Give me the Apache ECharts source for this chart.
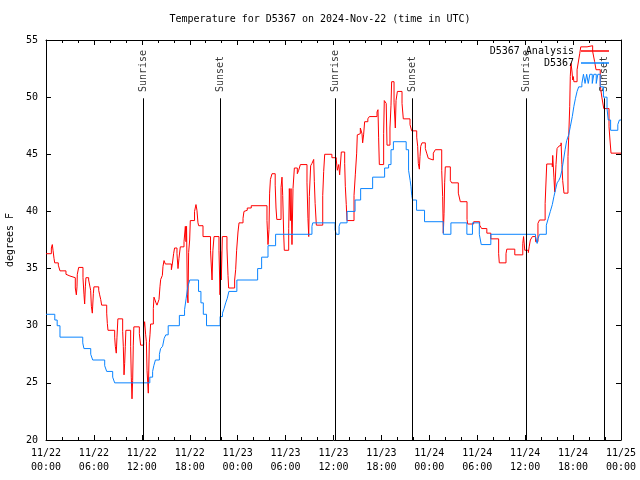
<!DOCTYPE html>
<html>
<head>
<meta charset="utf-8">
<script src="https://cdn.jsdelivr.net/npm/echarts@6/dist/echarts.min.js"></script>
<style>html,body{margin:0;padding:0;background:#fff}#c{width:640px;height:480px}</style>
</head>
<body>
<div id="c"></div>
<script>
// hours since 2024-11-22 00:00 UTC, temperature in deg F
var analysisSeries = [[0,36.3],[0.67,36.8],[0.79,37.1],[0.88,36.6],[1.0,35.9],[1.09,35.5],[1.54,35.3],[1.75,34.8],[2.5,34.5],[2.75,34.35],[3.0,34.2],[3.67,33.3],[3.8,32.7],[3.88,33.4],[3.92,34.5],[4.09,35.1],[4.63,34.2],[4.76,32.7],[4.84,31.9],[4.93,33.4],[5.0,34.2],[5.34,34.0],[5.46,33.85],[5.59,33.1],[5.68,31.7],[5.8,31.1],[5.93,32.8],[6.0,33.4],[6.6,33.1],[6.72,32.7],[6.85,32.3],[6.97,31.8],[7.6,31.1],[7.68,30.2],[7.76,29.6],[8.6,29.0],[8.68,28.2],[8.8,27.6],[8.89,29.0],[9.0,30.6],[9.6,29.5],[9.68,28.2],[9.77,25.7],[9.85,26.7],[9.93,28.2],[10.0,29.6],[10.6,28.2],[10.68,25.5],[10.77,23.6],[10.85,25.2],[10.93,28.3],[11.0,29.9],[11.69,29.3],[11.85,28.3],[12.23,29.8],[12.35,30.35],[12.48,29.2],[12.57,28.6],[12.65,26.1],[12.81,24.1],[12.94,28.5],[13.02,29.2],[13.1,30.15],[13.44,31.5],[13.52,32.5],[13.65,32.25],[13.77,32.0],[13.9,31.8],[14.15,32.3],[14.27,33.4],[14.36,34.05],[14.57,34.4],[14.65,35.2],[14.78,35.7],[14.94,35.4],[15.7,34.9],[15.8,35.3],[15.98,36.3],[16.1,36.8],[16.4,36.3],[16.53,35.0],[16.65,35.9],[16.82,36.9],[17.28,37.35],[17.45,38.7],[17.53,37.35],[17.6,38.7],[17.7,32.7],[17.78,32.0],[17.86,36.4],[17.99,37.5],[18.07,39.2],[18.6,40.0],[18.78,40.6],[18.9,40.1],[19.03,39.0],[19.12,38.75],[19.66,37.8],[20.6,36.6],[20.79,34.0],[20.9,36.6],[21.04,37.8],[21.66,36.6],[21.79,32.7],[21.87,36.5],[21.95,34.0],[22.08,37.8],[22.66,36.8],[22.79,34.4],[22.87,33.3],[23.62,34.0],[23.75,34.9],[23.87,36.6],[24.04,38.2],[24.17,39.0],[24.67,39.4],[24.79,40.0],[24.96,40.1],[25.2,40.3],[25.7,40.5],[27.67,39.2],[27.8,37.1],[27.92,38.4],[28.0,41.6],[28.1,42.8],[28.3,43.3],[28.7,42.3],[28.8,40.3],[28.9,39.3],[29.43,42.1],[29.55,43.0],[29.64,41.4],[29.76,38.1],[29.84,36.6],[30.39,38.5],[30.47,42.0],[30.6,39.2],[30.68,42.0],[30.8,37.1],[30.93,42.0],[31.1,43.8],[31.47,43.3],[31.64,43.6],[31.85,44.1],[32.68,42.5],[32.8,39.4],[32.9,37.8],[32.97,41.3],[33.14,44.0],[33.3,44.2],[33.52,44.55],[33.6,42.6],[33.7,40.7],[33.85,38.8],[34.65,41.4],[34.77,43.5],[34.9,45.0],[35.8,44.7],[36.35,44.5],[36.48,43.6],[36.65,44.1],[36.77,43.2],[36.98,45.2],[37.4,44.2],[37.48,42.2],[37.6,40.6],[37.69,39.2],[38.57,41.4],[38.73,43.2],[38.9,45.1],[38.98,46.7],[39.23,46.8],[39.36,47.3],[39.57,46.8],[39.65,46.0],[39.77,46.7],[39.9,47.85],[40.3,48.1],[40.49,48.3],[41.45,48.7],[41.57,48.9],[41.65,46.5],[41.74,44.1],[42.28,46.8],[42.36,49.7],[42.6,49.45],[42.7,45.8],[43.07,47.3],[43.2,49.3],[43.28,51.35],[43.58,49.5],[43.74,47.3],[43.83,49.7],[44.0,50.5],[44.58,49.45],[44.74,48.1],[45.58,47.6],[45.79,47.05],[46.42,46.5],[46.54,45.7],[46.62,44.2],[46.75,43.7],[46.83,44.8],[46.92,45.7],[47.08,46.0],[47.5,45.5],[47.67,45.1],[47.87,44.65],[48.08,44.5],[48.5,45.1],[48.75,45.4],[49.55,43.6],[49.67,41.3],[49.75,38.1],[49.84,39.8],[49.92,42.5],[50.0,43.9],[50.63,42.7],[50.8,42.5],[51.63,41.6],[51.88,40.85],[52.72,39.3],[52.8,38.9],[53.55,39.1],[54.3,38.8],[54.55,38.5],[55.2,38.1],[55.7,37.6],[56.68,36.3],[56.76,35.5],[57.6,36.3],[57.7,36.7],[58.7,36.2],[59.7,37.2],[59.8,37.8],[59.95,36.6],[60.4,36.4],[60.5,36.9],[60.65,37.5],[60.9,37.8],[61.3,37.35],[61.6,38.96],[61.8,39.25],[62.5,40.7],[62.7,44.15],[63.4,43.9],[63.45,44.9],[63.6,43.0],[63.7,41.7],[63.86,44.1],[63.99,45.5],[64.2,45.7],[64.4,45.8],[64.5,46.0],[64.6,44.1],[64.7,42.7],[64.86,41.6],[65.36,44.8],[65.45,46.5],[65.58,49.2],[65.65,51.8],[65.74,52.96],[65.87,52.2],[65.95,51.5],[66.03,51.8],[66.1,51.35],[66.5,52.4],[66.7,53.25],[66.83,53.8],[66.96,54.4],[67.75,54.5],[68.45,54.0],[68.7,53.1],[68.87,52.4],[69.4,51.0],[69.6,50.0],[69.84,49.0],[70.5,47.4],[70.62,46.25],[70.75,45.1],[72,45.1]];

var stationSeries = [[0,31.0],[1.1,30.5],[1.4,30.0],[1.75,29.0],[4.6,28.5],[4.75,28.0],[5.6,27.5],[5.85,27.0],[7.35,26.5],[7.6,26.0],[8.35,25.5],[8.6,25.0],[13.0,25.5],[13.35,26.0],[13.5,26.5],[13.7,27.0],[14.2,27.5],[14.35,28.0],[14.6,28.2],[14.8,28.9],[15.0,29.2],[15.3,30.0],[16.7,30.9],[17.35,31.4],[17.55,32.4],[17.75,33.4],[18.0,34.0],[19.1,33.0],[19.4,32.0],[19.7,31.0],[20.1,30.0],[21.8,30.8],[22.1,31.1],[22.3,31.5],[22.5,32.0],[22.7,32.4],[22.9,33.0],[23.9,34.0],[26.5,35.0],[27.0,36.0],[27.8,37.0],[28.75,38.0],[33.3,38.7],[33.4,39.0],[36.2,38.4],[36.35,38.0],[36.7,38.7],[36.85,39.0],[37.7,40.0],[38.7,41.0],[39.4,42.0],[40.9,43.0],[42.4,43.8],[42.9,44.1],[43.2,45.4],[43.5,46.1],[45.1,45.4],[45.4,43.6],[45.6,42.7],[45.7,42.2],[45.8,41.4],[45.9,41.0],[46.4,40.1],[47.4,39.1],[49.75,38.0],[50.7,39.0],[52.7,38.0],[53.4,39.0],[54.26,38.0],[54.5,37.1],[55.7,38.0],[61.3,37.8],[61.5,37.2],[61.6,37.6],[61.8,38.0],[62.65,38.8],[62.9,39.4],[63.15,40.0],[63.4,40.6],[63.6,41.3],[63.8,41.9],[64.0,42.5],[64.2,42.7],[64.4,43.0],[64.6,43.6],[64.8,44.5],[65.0,45.4],[65.2,46.2],[65.45,46.7],[65.65,47.4],[65.9,48.3],[66.1,49.2],[66.3,49.9],[66.5,50.5],[66.7,50.9],[67.1,51.2],[67.3,52.0],[67.5,51.2],[67.7,52.0],[67.9,51.2],[68.1,52.0],[68.4,51.2],[68.6,52.0],[68.9,51.2],[69.1,52.0],[69.4,50.9],[69.8,50.0],[70.25,49.0],[70.4,48.0],[70.7,47.1],[71.6,47.6],[71.8,48.0],[72,48.0]];

var eventHours = [12.18, 21.83, 36.23, 45.87, 60.15, 69.9];
var eventNames = ['Sunrise', 'Sunset', 'Sunrise', 'Sunset', 'Sunrise', 'Sunset'];
var eventLineTop = 49.9;
var eventLabelAt = 50.45;

var xTickLabels = ['11/22\n00:00','11/22\n06:00','11/22\n12:00','11/22\n18:00','11/23\n00:00','11/23\n06:00','11/23\n12:00','11/23\n18:00','11/24\n00:00','11/24\n06:00','11/24\n12:00','11/24\n18:00','11/25\n00:00'];
var seriesNames = ['D5367 Analysis', 'D5367'];
var titleText = 'Temperature for D5367 on 2024-Nov-22 (time in UTC)';
var yName = 'degrees F';

var FONT = 'DejaVu Sans Mono';
var chart = echarts.init(document.getElementById('c'), null, {renderer: 'canvas'});

var axisLineStyle = {color: '#000', width: 1};
var tickCommon = {show: true, inside: true, length: 5, lineStyle: {color: '#000', width: 1}};
var minorCommon = {show: true, splitNumber: 3, length: 3, lineStyle: {color: '#000', width: 1}};

var option = {
  animation: false,
  backgroundColor: '#fff',
  title: {
    text: titleText, left: 'center', top: 9,
    textStyle: {fontFamily: FONT, fontSize: 10, fontWeight: 'normal', color: '#000'}
  },
  legend: {
    orient: 'vertical', align: 'right', right: 26, top: 41,
    itemWidth: 28, itemHeight: 1.5, itemGap: 2,
    icon: 'rect',
    textStyle: {fontFamily: FONT, fontSize: 10, color: '#000', padding: [0, 2, 0, 0]},
    data: seriesNames
  },
  grid: {left: 46, right: 19, top: 40, bottom: 40, containLabel: false, outerBoundsMode: 'none'},
  xAxis: [{
    type: 'value', min: 0, max: 72, interval: 6, position: 'bottom',
    axisLine: {show: true, onZero: false, lineStyle: axisLineStyle},
    axisTick: tickCommon, minorTick: minorCommon,
    splitLine: {show: false},
    axisLabel: {
      fontFamily: FONT, fontSize: 10, color: '#000', lineHeight: 14, margin: 6,
      formatter: function (v) { return xTickLabels[Math.round(v / 6)] || ''; }
    }
  }, {
    type: 'value', min: 0, max: 72, interval: 6, position: 'top',
    axisLine: {show: true, onZero: false, lineStyle: axisLineStyle},
    axisTick: tickCommon, minorTick: minorCommon,
    splitLine: {show: false}, axisLabel: {show: false}
  }],
  yAxis: [{
    type: 'value', min: 20, max: 55, interval: 5, position: 'left',
    name: yName, nameLocation: 'middle', nameGap: 31, nameRotate: 90,
    nameTextStyle: {fontFamily: FONT, fontSize: 10, color: '#000'},
    axisLine: {show: true, onZero: false, lineStyle: axisLineStyle},
    axisTick: tickCommon, splitLine: {show: false},
    axisLabel: {fontFamily: FONT, fontSize: 10, color: '#000', margin: 8}
  }, {
    type: 'value', min: 20, max: 55, interval: 5, position: 'right',
    axisLine: {show: true, onZero: false, lineStyle: axisLineStyle},
    axisTick: tickCommon, splitLine: {show: false}, axisLabel: {show: false}
  }],
  series: [{
    name: 'events', type: 'scatter', symbolSize: 0, silent: true,
    data: eventHours.map(function (h, i) { return {value: [h, eventLabelAt], name: eventNames[i]}; }),
    label: {
      show: true, position: [0, 0], rotate: 90, align: 'left', verticalAlign: 'middle',
      formatter: function (p) { return p.name; },
      fontFamily: FONT, fontSize: 10, color: '#000'
    },
    markLine: {
      silent: true, symbol: ['none', 'none'], animation: false,
      label: {show: false},
      lineStyle: {color: '#000', width: 1, type: 'solid'},
      emphasis: {disabled: true},
      data: eventHours.map(function (h) { return [{coord: [h, 20]}, {coord: [h, eventLineTop]}]; })
    },
    z: 1
  }, {
    name: seriesNames[0], type: 'line', step: 'end', data: analysisSeries,
    showSymbol: false, symbol: 'none', lineStyle: {color: '#ff0000', width: 1}, itemStyle: {color: '#ff0000'}, z: 3
  }, {
    name: seriesNames[1], type: 'line', step: 'end', data: stationSeries,
    showSymbol: false, symbol: 'none', lineStyle: {color: '#0a84ff', width: 1}, itemStyle: {color: '#0a84ff'}, z: 4
  }]
};
chart.setOption(option);
</script>
</body>
</html>
